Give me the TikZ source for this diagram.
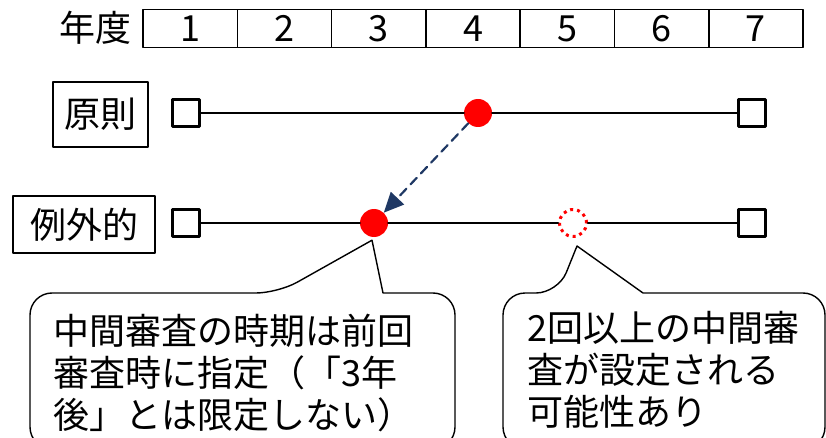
\documentclass[tikz,border=0pt]{standalone}
\usepackage{fontspec}
\setmainfont{Noto Sans CJK JP}
\usetikzlibrary{calc}
\usetikzlibrary{arrows,arrows.meta}
\definecolor{navy}{RGB}{31,56,100}
\tikzset{
  cell/.style={draw,line width=1.6pt,minimum width=94.3pt,minimum height=38pt,inner sep=0pt},
  lbl/.style={draw,line width=1.3pt,inner sep=0pt},
  endbox/.style={draw,fill=white,line width=3pt,minimum size=27pt,inner sep=0pt},
  reddot/.style={circle,fill=red,minimum size=28pt,inner sep=0pt},
  plandot/.style={circle,draw=red,line cap=butt,line width=3pt,dash pattern=on 3pt off 4pt,minimum size=27pt,inner sep=0pt},
  callout/.style={line width=1.4pt,fill=white},
  note/.style={align=left,anchor=north west,inner sep=0pt}
}
\begin{document}
\begin{tikzpicture}[line cap=round,line join=round,>={Triangle[length=20pt,width=18pt]},x=1pt,y=-1pt,font=\fontsize{36}{42}\selectfont]
\clip(0,0) rectangle (826,438);
% year row
\node (nendo) at (95,28) {年度};
\foreach \i in {1,...,7}
  \node [cell] (y\i) at ({143+94.3*(\i-0.5)},28.5) {\i};
% rows
\node [lbl,minimum width=95pt,minimum height=65pt] (gensoku) at (100.5,114.5) {原則};
\node [lbl,minimum width=142pt,minimum height=57pt] (reigai) at (84,224.5) {例外的};
\node [endbox] (a1) at (186,113) {};
\node [endbox] (a7) at (752,113) {};
\node [reddot] (d1) at (478,113) {};
\node [endbox] (b1) at (186,223) {};
\node [endbox] (b7) at (752,223) {};
\node [reddot] (d2) at (374,223) {};
\node [plandot] (p5) at (573,223) {};
\draw [line width=2.5pt] (a1) -- (d1) -- (a7);
\draw [line width=2.5pt] (b1) -- (d2) -- (p5) -- (b7);
\draw [->,navy,line width=2.2pt,dash pattern=on 9pt off 6pt] (d1) -- (d2);
% callouts
\coordinate (t1) at ($(d2.south)+(-2,3)$);
\coordinate (t2) at ($(p5.south)+(4,8)$);
\draw [callout] (383,293) [rounded corners=22] -- (455,293) -- (455,449) -- (30,449) -- (30,293) -- (278,293) [sharp corners] -- (t1) -- cycle;
\draw [callout] (643,293) [rounded corners=22] -- (825,293) -- (825,449) -- (503,449) -- (503,293) -- (558,293) [sharp corners] -- (t2) -- cycle;
\node [note] (n1) at (53,314) {中間審査の時期は前回\\審査時に指定（「3年\\後」とは限定しない）};
\node [note] (n2) at (527,311) {2回以上の中間審\\査が設定される\\可能性あり};
\end{tikzpicture}
\end{document}
